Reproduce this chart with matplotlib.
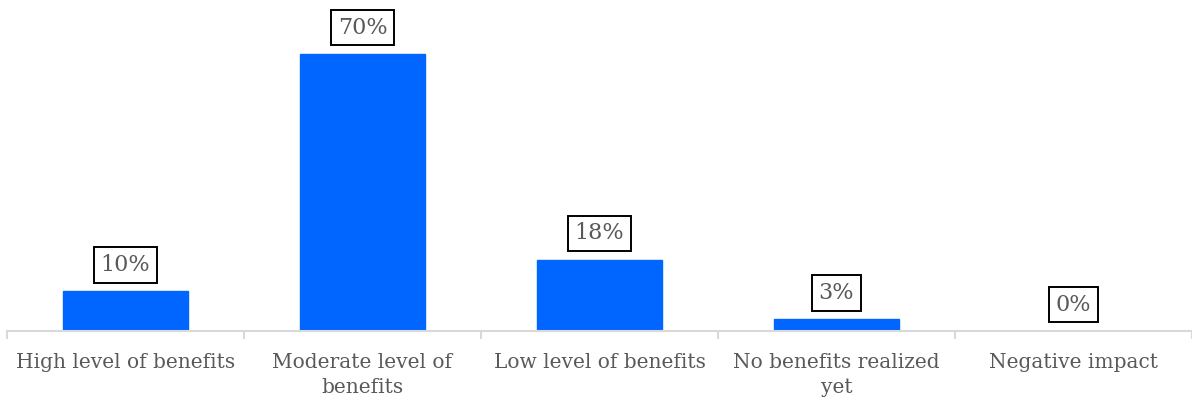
import matplotlib.pyplot as plt
import numpy as np

categories = ["High level of benefits", "Moderate level of\nbenefits",
              "Low level of benefits", "No benefits realized\nyet",
              "Negative impact"]
shares = [10, 70, 18, 3, 0]
labels = ["10%", "70%", "18%", "3%", "0%"]

plt.rcParams['font.family'] = ['DejaVu Serif']

fig = plt.figure(figsize=(11.92, 4.05), dpi=100)
ax = fig.add_axes([7 / 1192, 74 / 405, 1185 / 1192, 331 / 405])

x = np.arange(len(categories))
ax.bar(x, shares, width=0.53, color="#0066ff", edgecolor="#0066ff")

for xi, v, lab in zip(x, shares, labels):
    ax.annotate(lab, (xi, v), xytext=(0, 11), textcoords="offset points",
                ha="center", va="bottom", fontsize=16, color="#595959",
                bbox=dict(boxstyle="square,pad=0.3", fc="white", ec="black", lw=1.4))

ax.set_xlim(-0.5, len(categories) - 0.5)
ax.set_ylim(0, 83.6)
ax.set_yticks([])
for side in ["top", "right", "left"]:
    ax.spines[side].set_visible(False)
ax.spines["bottom"].set_color("#d9d9d9")
ax.spines["bottom"].set_linewidth(1.5)

# category labels in the middle, tick marks at the category boundaries
ax.set_xticks(x)
ax.set_xticklabels(categories, fontsize=14.5, color="#595959", linespacing=1.4)
ax.tick_params(axis="x", which="major", length=0, pad=16)
ax.set_xticks(np.arange(len(categories) + 1) - 0.5, minor=True)
ax.tick_params(axis="x", which="minor", length=6, width=1.5, color="#d9d9d9")

fig.savefig("out.png", dpi=100)
